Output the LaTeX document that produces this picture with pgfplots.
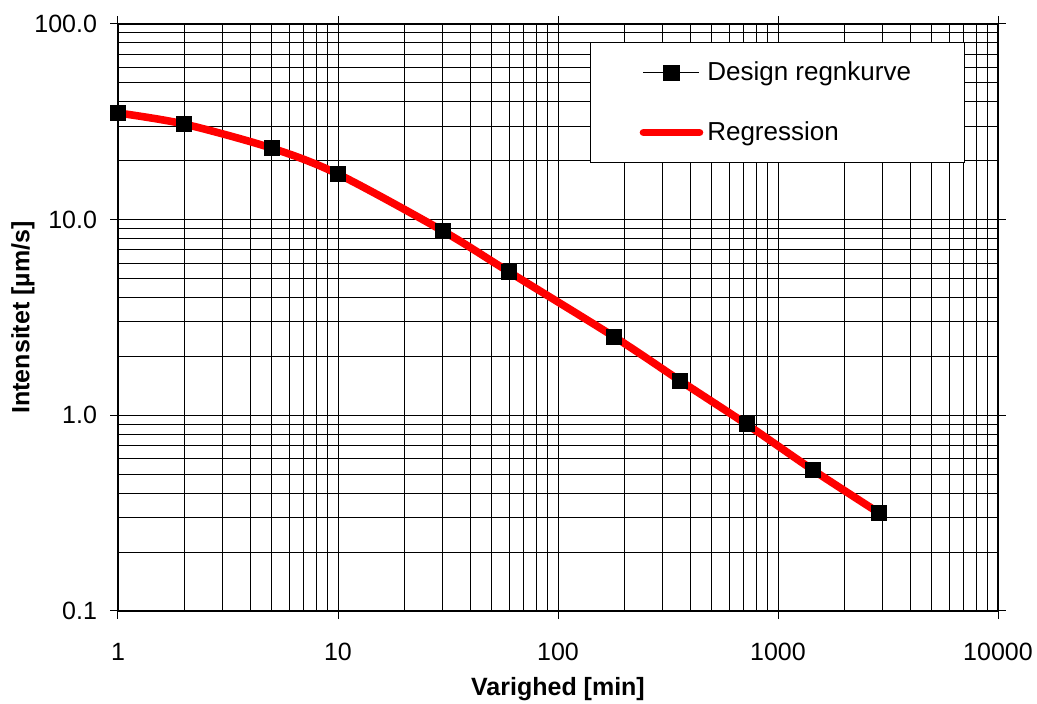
\documentclass[border=0pt]{standalone}
\usepackage{fontspec}
\setmainfont{Liberation Sans}
\usepackage{pgfplots}
\pgfplotsset{compat=1.18}

\begin{document}
\begin{tikzpicture}
\begin{axis}[
  name=ax,
  scale only axis,
  width=440pt, height=293.5pt,
  xmode=log, ymode=log,
  xmin=1, xmax=10000, ymin=0.1, ymax=100,
  xtick={1,10,100,1000,10000},
  xticklabels={1,10,100,1000,10000},
  ytick={0.1,1,10,100},
  yticklabels={0.1,1.0,10.0,100.0},
  minor xtick={2,3,4,5,6,7,8,9,20,30,40,50,60,70,80,90,200,300,400,500,600,700,800,900,2000,3000,4000,5000,6000,7000,8000,9000},
  minor ytick={0.2,0.3,0.4,0.5,0.6,0.7,0.8,0.9,2,3,4,5,6,7,8,9,20,30,40,50,60,70,80,90},
  grid=both,
  major grid style={black, line width=0.5pt},
  minor grid style={black, line width=0.5pt},
  tick align=outside,
  major tick length=4pt,
  minor tick length=0pt,
  tick style={black, line width=0.5pt},
  axis line style={black, line width=1.2pt},
  xticklabel style={font=\fontsize{12.5}{14}\selectfont, anchor=base, yshift=-21pt},
  yticklabel style={font=\fontsize{12.5}{14}\selectfont, anchor=east, xshift=-3pt},
  xlabel={\textbf{Varighed [min]}},
  ylabel={\textbf{Intensitet [µm/s]}},
  xlabel style={font=\fontsize{12.5}{14}\selectfont, at={(rel axis cs:0.5,0)}, anchor=center, yshift=-39pt},
  ylabel style={font=\fontsize{12.5}{14}\selectfont, at={(rel axis cs:0,0.5)}, anchor=center, yshift=47.5pt},
  legend style={at={(rel axis cs:0.962,0.969)}, anchor=north east,
    draw=black, line width=0.5pt, fill=white,
    font=\fontsize{13}{15}\selectfont,
    inner xsep=24.5pt, inner ysep=7.5pt,
    row sep=15pt, cells={anchor=west}},
  legend cell align=left,
  legend image code/.code={\draw[mark repeat=2,mark phase=2,#1] plot coordinates {(0pt,0pt) (14pt,0pt) (28pt,0pt)};},
]
% design curve line (hidden under the regression)
\addplot[black, line width=0.6pt, forget plot] coordinates {
  (1,35.1) (2,30.8) (5,23.2) (10,17.1) (30,8.75) (60,5.4) (180,2.52)
  (360,1.5) (720,0.90) (1440,0.526) (2880,0.317)};
% regression
\addplot[red, line width=3.8pt, smooth, forget plot] coordinates {
  (1,35.1) (2,30.8) (5,23.2) (10,17.1) (30,8.75) (60,5.4) (180,2.52)
  (360,1.5) (720,0.90) (1440,0.526) (2880,0.317)};
% design curve markers
\addplot[black, only marks, mark=square*, mark size=3.75pt, forget plot] coordinates {
  (1,35.1) (2,30.8) (5,23.2) (10,17.1) (30,8.75) (60,5.4) (180,2.52)
  (360,1.5) (720,0.90) (1440,0.526) (2880,0.317)};
\addlegendimage{black, line width=0.6pt, mark=square*, mark size=3.75pt}
\addlegendentry{Design regnkurve}
\addlegendimage{red, line width=3.8pt, line cap=round}
\addlegendentry{Regression}
\end{axis}
\pgfresetboundingbox
\path[use as bounding box] ([shift={(-59pt,-46.5pt)}]ax.south west) rectangle ([shift={(19.5pt,12pt)}]ax.north east);
\end{tikzpicture}
\end{document}
